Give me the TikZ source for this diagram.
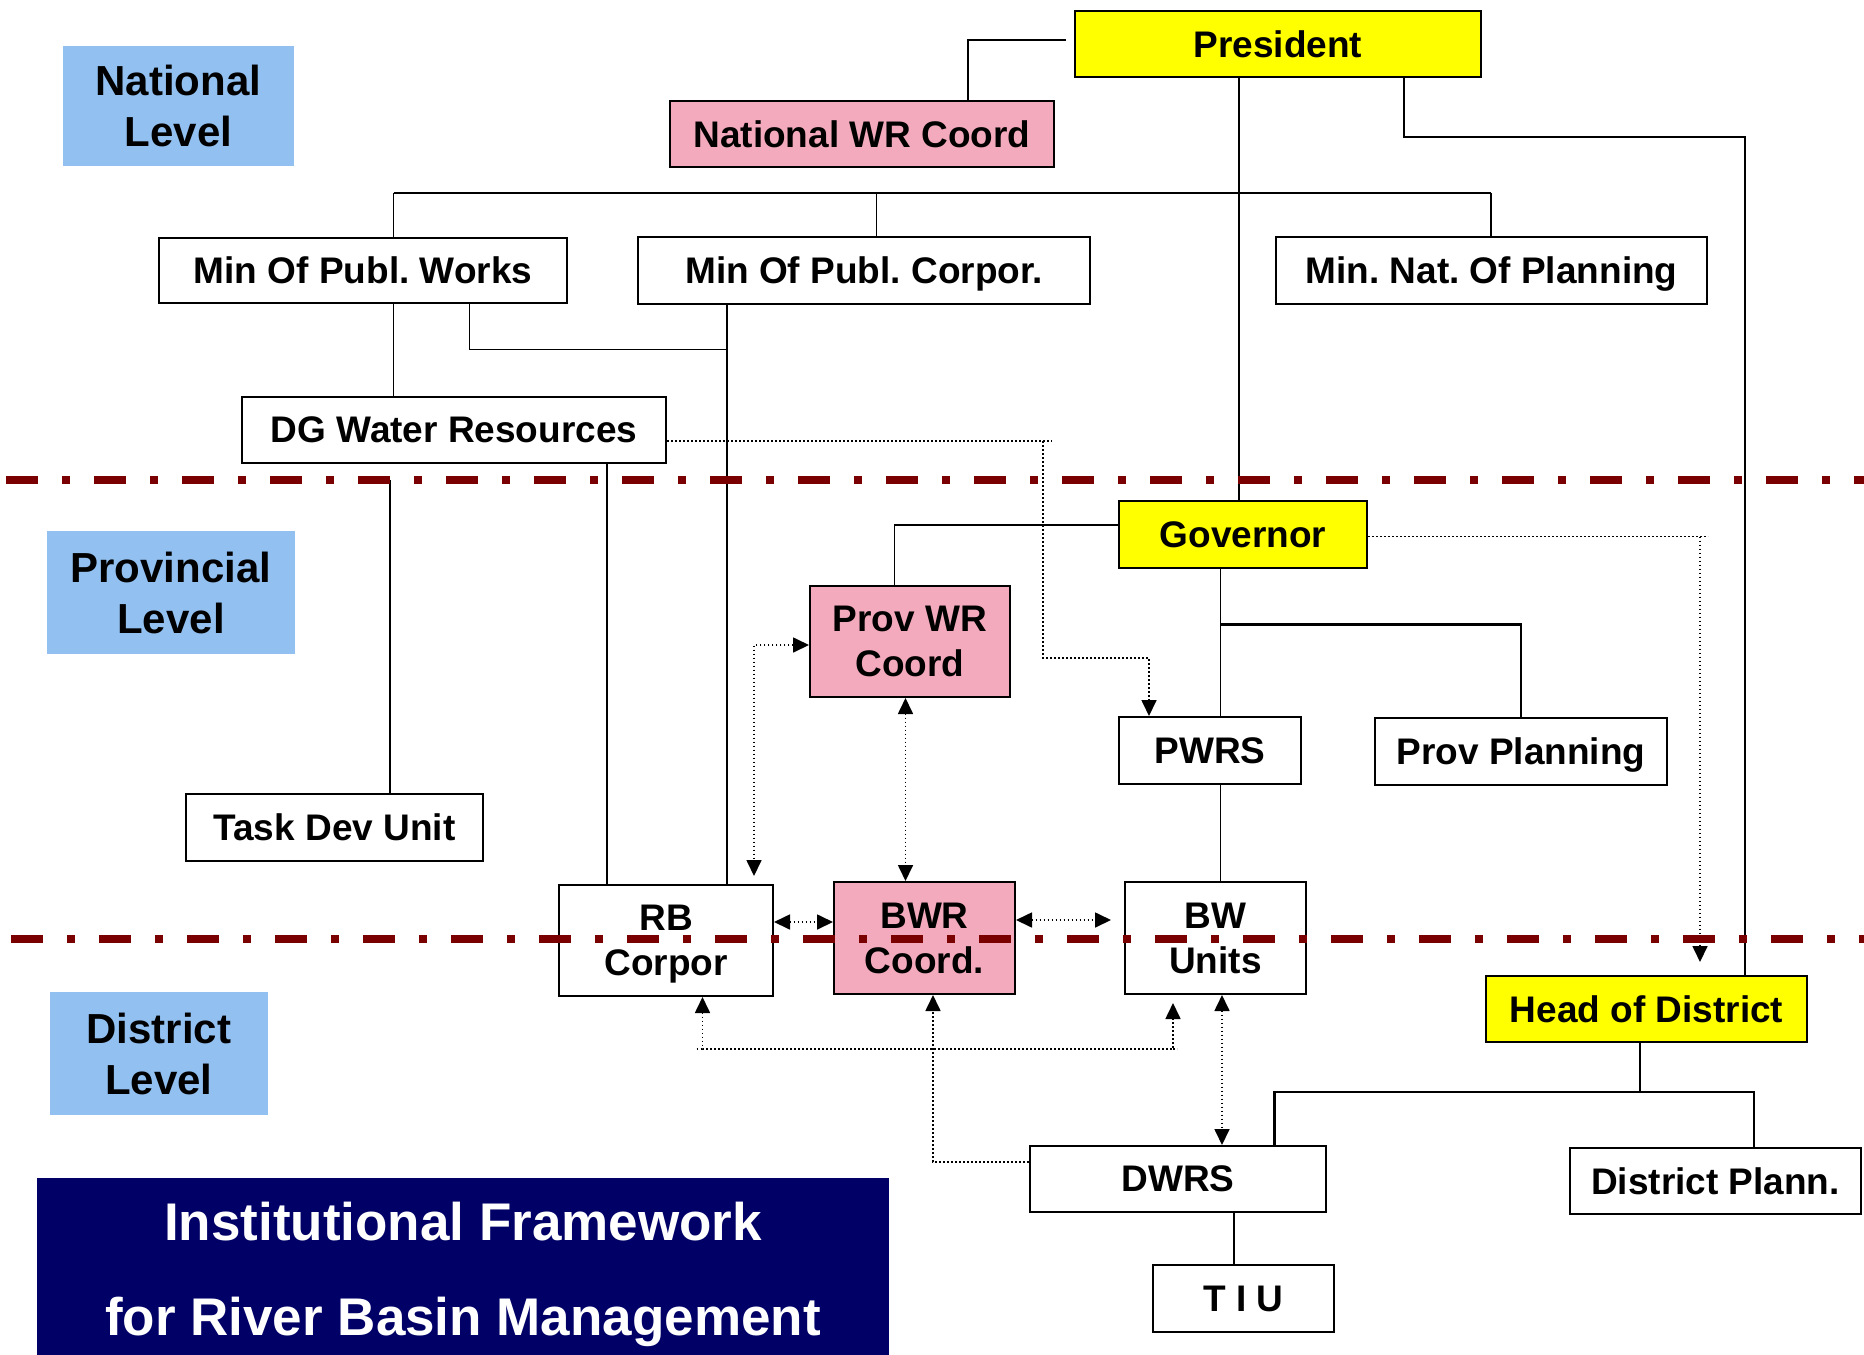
\documentclass[tikz,border=0pt]{standalone}
\usepackage{fontspec}
\setmainfont{Liberation Sans}
\usetikzlibrary{arrows.meta}
\definecolor{tierblue}{RGB}{146,192,240}
\definecolor{coordpink}{RGB}{244,170,189}
\definecolor{headyellow}{RGB}{255,255,0}
\definecolor{titlenavy}{RGB}{0,0,102}
\definecolor{borderred}{RGB}{122,0,0}
\frenchspacing

\begin{document}
\begin{tikzpicture}[x=1pt,y=-1pt,
  >={Triangle[length=16pt,width=15pt]},
  orgbox/.style={draw=black, line width=2pt, fill=white, inner sep=0pt, align=center,
    text depth=0pt, font=\fontsize{37}{45}\selectfont\bfseries},
  yellowbox/.style={orgbox, fill=headyellow},
  pinkbox/.style={orgbox, fill=coordpink},
  tierbox/.style={fill=tierblue, inner sep=0pt, align=center,
    font=\fontsize{42}{51}\selectfont\bfseries},
  solidlink/.style={line width=1.6pt},
  buslink/.style={line width=2.2pt},
  dotlink/.style={line width=1.7pt, dash pattern=on 1.7pt off 2.3pt},
  divider/.style={draw=borderred, line width=8pt,
    dash pattern=on 32pt off 24pt on 8pt off 24pt}
]
\useasboundingbox (0,0) rectangle (1864,1355);

% administrative level labels
\node[tierbox, minimum width=231pt, minimum height=120pt, text depth=0pt] (natl) at (178.5,106) {National\\Level};
\node[tierbox, minimum width=248pt, minimum height=123pt] (prov) at (171,592.5) {Provincial\\Level};
\node[tierbox, minimum width=217.5pt, minimum height=123pt] (dist) at (158.75,1053.5) {District\\Level};

% title panel (runs off the lower edge of the page)
\node[fill=titlenavy, text=white, minimum width=852pt, minimum height=193pt, inner sep=0pt,
  align=center, font=\fontsize{53}{95}\selectfont\bfseries] (title) at (463,1274.5)
  {Institutional Framework\\for River Basin Management};

% national bodies
\node[yellowbox, minimum width=406pt, minimum height=66pt] (pres) at (1278,44) {President};
\node[pinkbox, minimum width=384pt, minimum height=66pt] (nwrc) at (862,134) {National WR Coord};
\node[orgbox, minimum width=408pt, minimum height=65pt] (mpw) at (363,270.5) {Min Of Publ. Works};
\node[orgbox, minimum width=452pt, minimum height=67pt] (mpc) at (864,270.5) {Min Of Publ. Corpor.};
\node[orgbox, minimum width=431pt, minimum height=67pt] (mnp) at (1491.5,270.5) {Min. Nat. Of Planning};
\node[orgbox, minimum width=424pt, minimum height=66pt] (dg) at (454,430) {DG Water Resources};

% provincial bodies
\node[yellowbox, minimum width=248pt, minimum height=67pt] (gov) at (1243,534.5) {Governor};
\node[pinkbox, minimum width=200pt, minimum height=111pt] (pwrc) at (910,641.5) {Prov WR\\Coord};
\node[orgbox, minimum width=182pt, minimum height=67pt] (pwrs) at (1210,750.5) {PWRS};
\node[orgbox, minimum width=292pt, minimum height=67pt] (ppl) at (1521,751.5) {Prov Planning};
\node[orgbox, minimum width=297pt, minimum height=67pt] (tdu) at (334.5,827.5) {Task Dev Unit};
\node[orgbox, minimum width=214pt, minimum height=111pt] (rb) at (666,940.5) {RB\\Corpor};
\node[pinkbox, minimum width=181pt, minimum height=112pt] (bwr) at (924.5,938) {BWR\\Coord.};
\node[orgbox, minimum width=181pt, minimum height=112pt] (bwu) at (1215.5,938) {BW\\Units};

% district bodies
\node[yellowbox, minimum width=321pt, minimum height=66pt] (hod) at (1646.5,1009) {Head of District};
\node[orgbox, minimum width=296pt, minimum height=66pt] (dwrs) at (1178,1179) {DWRS};
\node[orgbox, minimum width=291pt, minimum height=66pt] (dpl) at (1715.5,1181) {District Plann.};
\node[orgbox, minimum width=181pt, minimum height=67pt] (tiu) at (1243.5,1298.5) {T I U};

% routing points
\coordinate (nwj) at (968,40);
\coordinate (busL) at (393.5,193);
\coordinate (busM) at (876.5,193);
\coordinate (busR) at (1491,193);
\coordinate (pv) at (1239,0);
\coordinate (hb1) at (1404,137);
\coordinate (hb2) at (1745,137);
\coordinate (wj1) at (469.5,349.5);
\coordinate (wj2) at (727,349.5);
\coordinate (dgx) at (607,0);
\coordinate (tdx) at (390,480);
\coordinate (gw) at (894.5,525);
\coordinate (gx) at (1220.5,0);
\coordinate (gb) at (1220.5,624.5);
\coordinate (hj) at (1640,1092);
\coordinate (hl) at (1274.5,1092);
\coordinate (hr) at (1754,1092);
\coordinate (tx) at (1234,0);

% line of authority
\draw[solidlink] ([xshift=-8pt]pres.west |- nwj) -- (nwj) -- (nwrc.north -| nwj);
\draw[solidlink] (pres.south -| pv) -- (gov.north -| pv);
\draw[buslink] (busL) -- (busR);
\draw[solidlink] (busL) -- (mpw.north -| busL);
\draw[solidlink] (busM) -- (mpc.north -| busM);
\draw[solidlink] (busR) -- (mnp.north -| busR);
\draw[solidlink] (pres.south -| hb1) -- (hb1) -- (hb2) -- (hod.north -| hb2);
\draw[solidlink] (mpw.south -| busL) -- (dg.north -| busL);
\draw[solidlink] (mpw.south -| wj1) -- (wj1) -- (wj2);
\draw[solidlink] (mpc.south -| wj2) -- (rb.north -| wj2);
\draw[solidlink] (dg.south -| dgx) -- (rb.north -| dgx);
\draw[solidlink] (tdx) -- (tdu.north -| tdx);
\draw[solidlink] (gov.west |- gw) -| (pwrc.north -| gw);
\draw[solidlink] (gov.south -| gx) -- (pwrs.north -| gx);
\draw[buslink] (gb) -| (ppl.north);
\draw[solidlink] (pwrs.south -| gx) -- (bwu.north -| gx);
\draw[solidlink] (hod.south -| hj) -- (hj);
\draw[buslink] (dwrs.north -| hl) -- (hl) -- (hr) -- (dpl.north -| hr);
\draw[solidlink] (dwrs.south -| tx) -- (tiu.north -| tx);

% coordination links
\coordinate (d1) at (1043,441);
\coordinate (d2) at (1043,658);
\coordinate (d3) at (1149,658);
\draw[dotlink] (dg.east |- d1) -- ([xshift=9pt]d1);
\draw[dotlink,->] (d1) -- (d2) -- (d3) -- (pwrs.north -| d3);

\coordinate (g1) at (1700,536.5);
\path (g1 |- hod.north) coordinate (g2);
\draw[dotlink] (gov.east |- g1) -- ([xshift=8pt]g1);
\draw[dotlink,->] (g1) -- ([yshift=13pt]g2);

\coordinate (c1) at (754,645);
\path (rb.north -| c1) coordinate (c1b);
\draw[dotlink,<->] (pwrc.west |- c1) -- (c1) -- ([yshift=8pt]c1b);

\coordinate (c2) at (905.5,0);
\draw[dotlink,<->] (pwrc.south -| c2) -- (bwr.north -| c2);

\coordinate (e1) at (0,922);
\draw[dotlink,<->] (rb.east |- e1) -- (bwr.west |- e1);

\coordinate (f1) at (0,920);
\path (bwu.west |- f1) coordinate (f2);
\draw[dotlink,<->] (bwr.east |- f1) -- ([xshift=-13pt]f2);

\coordinate (k1) at (702.5,1049);
\coordinate (k2) at (1173,1049);
\path (bwu.south -| k2) coordinate (k3);
\draw[dotlink,<->] (rb.south -| k1) -- (k1) -- (k2) -- ([yshift=-8pt]k3);
\draw[dotlink] ([xshift=-6pt]k1) -- (k1);
\draw[dotlink] (k2) -- ([xshift=4pt]k2);

\coordinate (h1) at (933,1162);
\draw[dotlink,->] (dwrs.west |- h1) -- (h1) -- (bwr.south -| h1);

\coordinate (i1) at (1222,0);
\draw[dotlink,<->] (bwu.south -| i1) -- (dwrs.north -| i1);

% level boundaries
\coordinate (divA1) at (6,480);
\coordinate (divA2) at (1864,480);
\coordinate (divB1) at (11,939);
\coordinate (divB2) at (1864,939);
\draw[divider] (divA1) -- (divA2);
\draw[divider] (divB1) -- (divB2);
\end{tikzpicture}
\end{document}
